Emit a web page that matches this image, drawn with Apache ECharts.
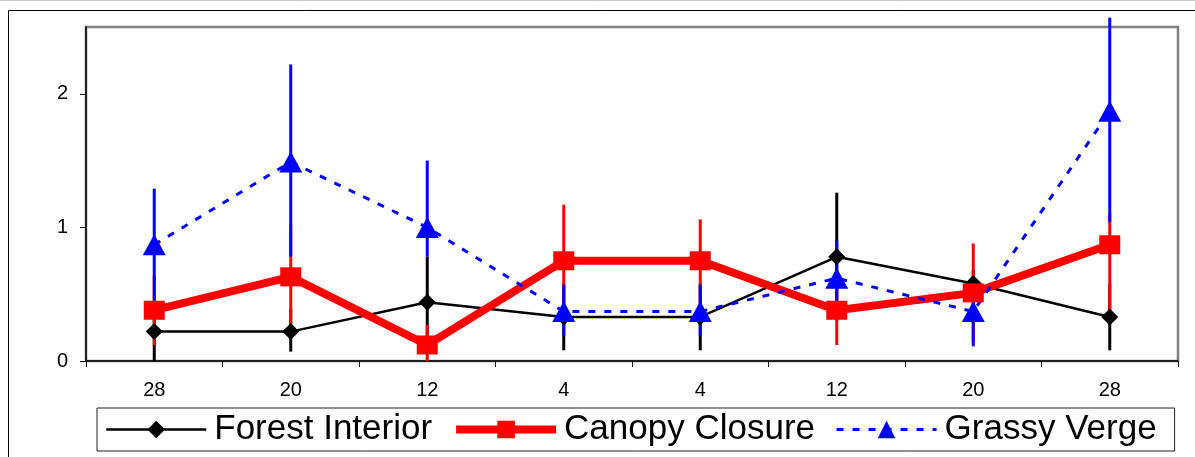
<!DOCTYPE html>
<html>
<head>
<meta charset="utf-8">
<script src="https://cdn.jsdelivr.net/npm/echarts@6/dist/echarts.min.js"></script>
<style>
html,body{margin:0;padding:0;background:#fff;}
#chart{width:1195px;height:457px;}
</style>
</head>
<body>
<div id="chart"></div>
<script>
// Category tick labels
const categories = ['28', '20', '12', '4', '4', '12', '20', '28'];
const yTickValues = [0, 1, 2];

// Forest Interior
const forestValues = [0.22, 0.22, 0.44, 0.33, 0.33, 0.78, 0.58, 0.33];
const forestLow    = [0.00, 0.07, 0.10, 0.08, 0.08, 0.30, 0.48, 0.08];
const forestHigh   = [0.45, 0.39, 0.78, 0.58, 0.58, 1.26, 0.68, 0.58];

// Canopy Closure
const canopyValues = [0.38, 0.63, 0.12, 0.75, 0.75, 0.38, 0.51, 0.87];
const canopyLow    = [0.12, 0.28, 0.00, 0.33, 0.44, 0.12, 0.14, 0.30];
const canopyHigh   = [0.64, 1.02, 0.27, 1.17, 1.06, 0.64, 0.88, 1.10];

// Grassy Verge
const grassyValues = [0.87, 1.49, 1.00, 0.37, 0.37, 0.62, 0.37, 1.87];
const grassyLow    = [0.45, 0.78, 0.78, 0.19, 0.19, 0.34, 0.11, 1.04];
const grassyHigh   = [1.29, 2.22, 1.50, 0.57, 0.57, 0.90, 0.63, 2.57];

const seriesNames = ['Forest Interior', 'Canopy Closure', 'Grassy Verge'];

function errSeries(id, lows, highs, color) {
  return {
    type: 'custom',
    id: id,
    name: id,
    z: 1,
    silent: true,
    clip: false,
    data: lows.map((l, i) => [i, l, highs[i]]),
    encode: { x: 0, y: [1, 2] },
    renderItem: function (params, api) {
      const x = api.value(0);
      const p1 = api.coord([x, api.value(1)]);
      const p2 = api.coord([x, api.value(2)]);
      return {
        type: 'line',
        shape: { x1: p1[0], y1: p1[1], x2: p2[0], y2: p2[1] },
        style: { stroke: color, lineWidth: 3 }
      };
    }
  };
}

const chart = echarts.init(document.getElementById('chart'), null, { renderer: 'canvas' });
const font = 'Liberation Sans';
const labelStyle = { fontSize: 20, fontFamily: font, color: '#000' };

chart.setOption({
  animation: false,
  backgroundColor: '#fff',
  graphic: [
    { type: 'line', shape: { x1: 0, y1: 0.5, x2: 1195, y2: 0.5 }, style: { stroke: '#c8c8c8', lineWidth: 1 }, z: 0 },
    { type: 'rect', shape: { x: 8.5, y: 10.5, width: 1300, height: 600 }, style: { fill: null, stroke: '#000', lineWidth: 1 }, z: 0 }
  ],
  grid: {
    left: 86, right: 17, top: 27, bottom: 96,
    show: true, borderColor: '#808080', borderWidth: 2.5, backgroundColor: '#fff'
  },
  legend: {
    data: [
      { name: seriesNames[0], lineStyle: { width: 2.5, color: '#000' } },
      { name: seriesNames[1], lineStyle: { width: 8, color: '#ff0000' } },
      { name: seriesNames[2], lineStyle: { width: 3, color: '#0000ff', type: [7, 9] } }
    ],
    left: 97, top: 408,
    itemWidth: 100, itemHeight: 22, itemGap: 20,
    padding: [4, 18, 4, 8],
    borderColor: '#222', borderWidth: 1,
    textStyle: { fontSize: 35, fontFamily: font, color: '#000', padding: [0, 0, 0, 3] }
  },
  xAxis: {
    type: 'category',
    data: categories,
    boundaryGap: true,
    axisLine: { show: true, lineStyle: { color: '#000', width: 1.5 } },
    axisTick: { show: true, length: 6, inside: false, alignWithLabel: false, lineStyle: { color: '#000', width: 1 } },
    axisLabel: {
      show: true, margin: 19, fontSize: 20, fontFamily: font, color: '#000',
      textStyle: labelStyle
    },
    splitLine: { show: false }
  },
  yAxis: {
    type: 'value',
    min: 0, max: 2.5, interval: 1,
    axisLine: { show: true, lineStyle: { color: '#000', width: 1.5 } },
    axisTick: { show: true, length: 6, customValues: yTickValues, lineStyle: { color: '#000', width: 1 } },
    axisLabel: {
      show: true, margin: 18, customValues: yTickValues, fontSize: 20, fontFamily: font, color: '#000',
      textStyle: labelStyle
    },
    splitLine: { show: false }
  },
  series: [
    errSeries('fe', forestLow, forestHigh, '#000'),
    errSeries('ce', canopyLow, canopyHigh, '#ff0000'),
    errSeries('ge', grassyLow, grassyHigh, '#0000ff'),
    {
      name: seriesNames[0], type: 'line', z: 2, data: forestValues,
      symbol: 'diamond', symbolSize: 17, showAllSymbol: true,
      lineStyle: { color: '#000', width: 2.5 },
      itemStyle: { color: '#000' }
    },
    {
      name: seriesNames[1], type: 'line', z: 2, data: canopyValues,
      symbol: 'rect', symbolSize: [21, 19], showAllSymbol: true,
      lineStyle: { color: '#ff0000', width: 8 },
      itemStyle: { color: '#ff0000' }
    },
    {
      name: seriesNames[2], type: 'line', z: 2, data: grassyValues,
      symbol: 'triangle', symbolSize: [23, 21], showAllSymbol: true,
      lineStyle: { color: '#0000ff', width: 3, type: [7, 9] },
      itemStyle: { color: '#0000ff' }
    }
  ]
});
</script>
</body>
</html>
